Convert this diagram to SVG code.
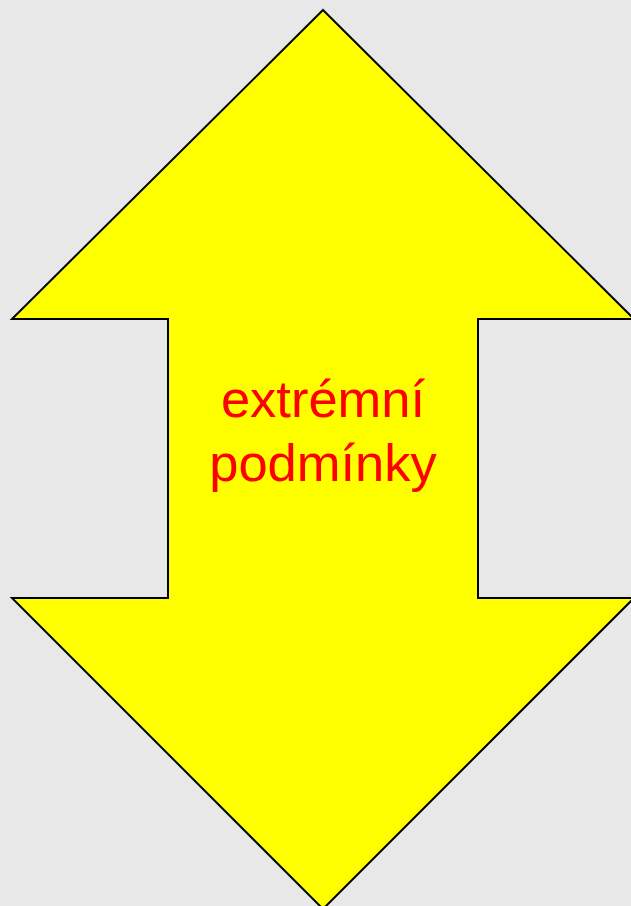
<svg xmlns="http://www.w3.org/2000/svg" width="631" height="906" viewBox="0 0 631 906">
<style>
.shape{fill:#ffff00;stroke:#000;stroke-width:2;stroke-linejoin:miter}
.lbl{font-family:"Liberation Sans",Arial,sans-serif;font-size:52.5px;fill:#ff0000;text-anchor:middle}
</style>
<rect x="0" y="0" width="631" height="906" fill="#e8e8e8"/>
<g id="arrow">
<polygon class="shape" points="323,10 634,319 478,319 478,598 634,598 323,909 12,598 168,598 168,319 12,319"/>
<text class="lbl" x="323" y="417">extrémní</text>
<text class="lbl" x="323" y="481">podmínky</text>
</g>
</svg>
